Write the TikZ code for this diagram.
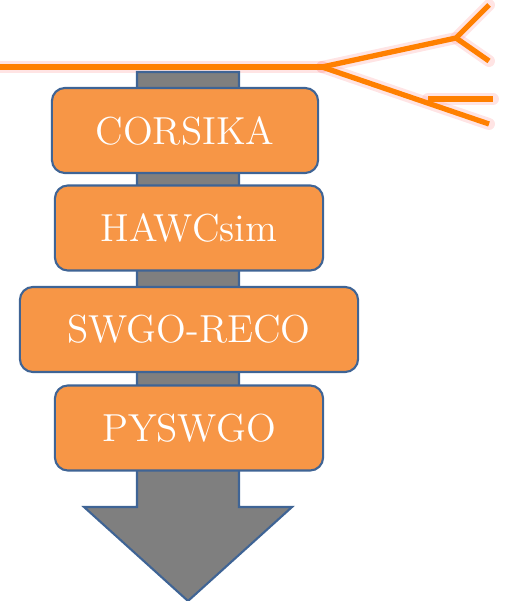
\documentclass[tikz,border=0pt]{standalone}
\usepackage{tikz}

\definecolor{stageorange}{HTML}{F79646}
\definecolor{stageedge}{HTML}{3F6495}
\definecolor{shaftgray}{HTML}{7F7F7F}
\definecolor{showerorange}{HTML}{FF8000}

\tikzset{
  stagebox/.style={draw=stageedge, line width=0.6pt, fill=stageorange, rounded corners=0.13cm,
    minimum height=0.85cm, text=white, font=\fontsize{11.1}{12}\selectfont, inner sep=0pt},
  showerline/.style={showerorange, line width=1.5pt},
  showerglow/.style={red!35, line width=3.4pt, opacity=0.3, line cap=round}
}

\begin{document}
\begin{tikzpicture}[x=0.01cm, y=-0.01cm]
\useasboundingbox (0,0) rectangle (506,601);
% shower front
\foreach \sty in {showerglow, showerline} {
  \draw[\sty] (0,67) -- (322,67);
  \draw[\sty] (322,67) -- (456,38) -- (489,5);
  \draw[\sty] (456,38) -- (489,61);
  \draw[\sty] (322,67) -- (489,124);
  \draw[\sty] (428,99) -- (493,99);
}
% pipeline arrow
\draw[stageedge, line width=0.6pt, fill=shaftgray]
  (137,72) -- (239,72) -- (239,507) -- (292,507) -- (188,601) -- (84,507) -- (137,507) -- cycle;
% stages
\node[stagebox, minimum width=2.66cm] (corsika) at (185,130.5) {CORSIKA};
\node[stagebox, minimum width=2.68cm] (hawcsim) at (189,228) {HAWCsim};
\node[stagebox, minimum width=3.38cm] (swgoreco) at (189,329.5) {SWGO-RECO};
\node[stagebox, minimum width=2.68cm] (pyswgo) at (189,428) {PYSWGO};
\end{tikzpicture}
\end{document}
